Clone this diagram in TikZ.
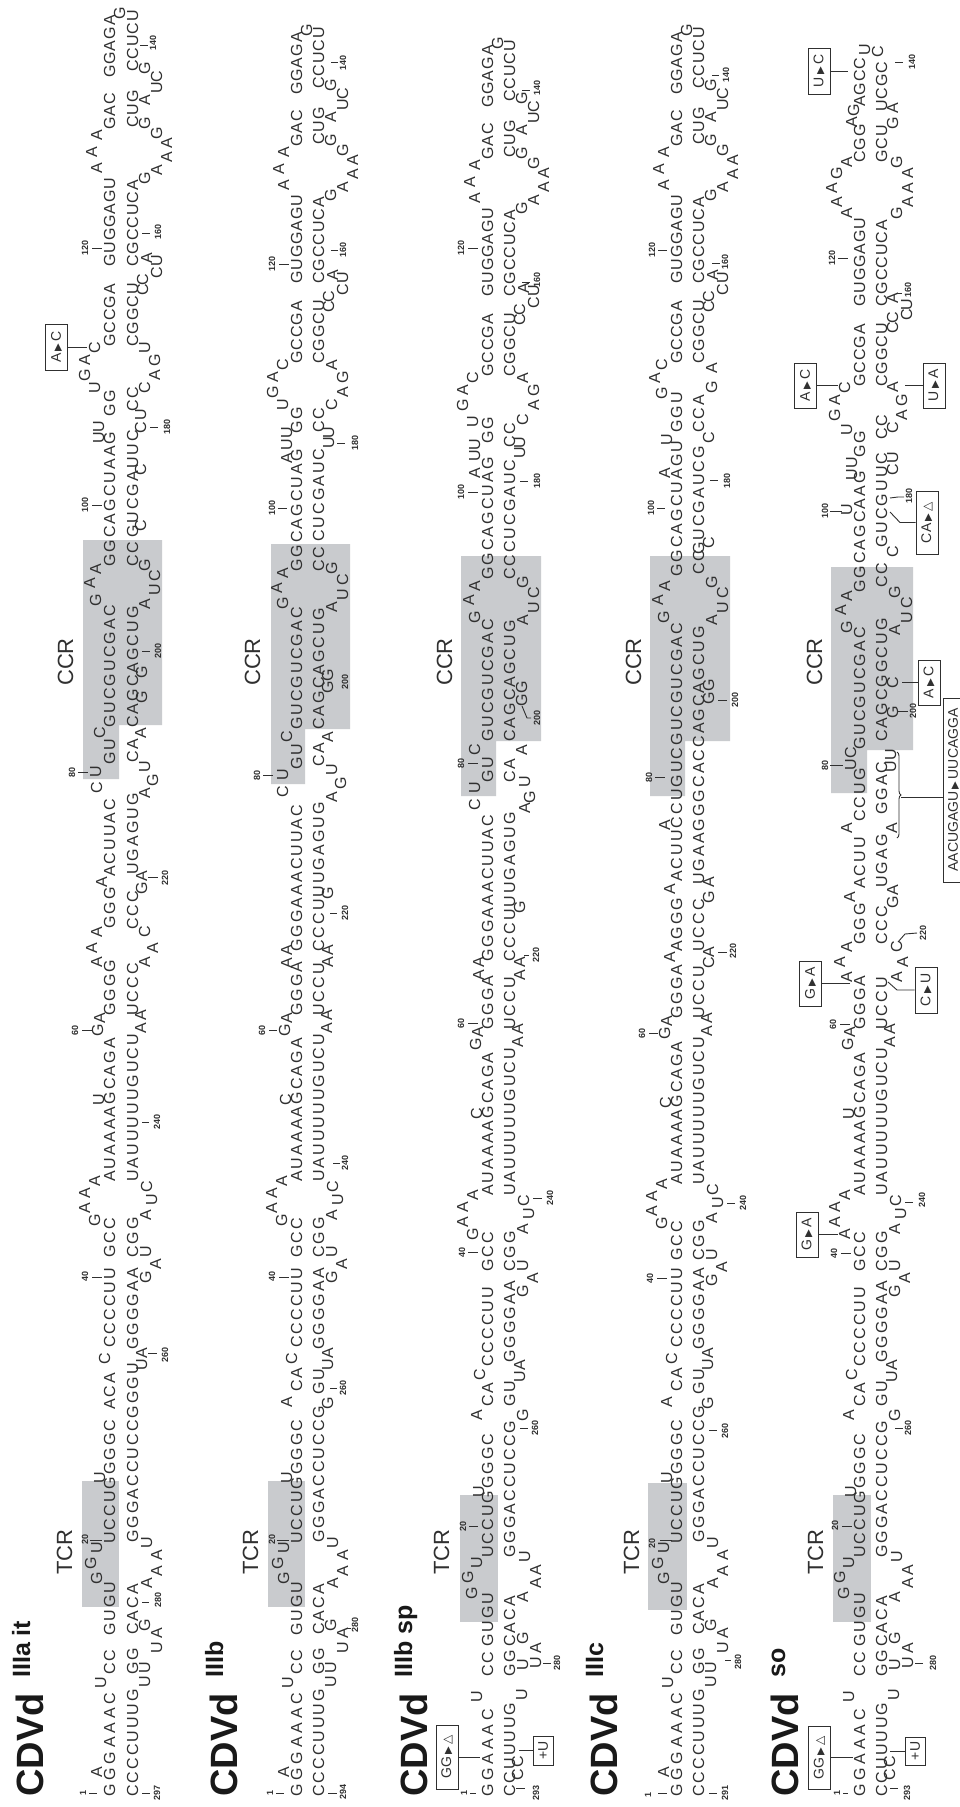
\documentclass[tikz,border=0pt]{standalone}
\usepackage{fontspec}
\usetikzlibrary{decorations.pathreplacing}
\setmainfont{Liberation Sans}
\newfontfamily\rnaspaced[LetterSpace=13]{Liberation Sans}
\newfontfamily\rnatight[LetterSpace=6]{Liberation Sans}
\newfontfamily\rnawide[LetterSpace=24]{Liberation Sans}
\newfontfamily\symfont{DejaVu Sans}
\definecolor{ink}{HTML}{303030}
\definecolor{regionfill}{HTML}{C9CBCE}
\tikzset{
 rowst/.style={inner sep=0pt,rotate=90,text=ink,font=\rnaspaced\fontsize{16}{16}\selectfont,anchor=base west},
 rowtight/.style={rowst,font=\rnatight\fontsize{16}{16}\selectfont},
 rowwide/.style={rowst,font=\rnawide\fontsize{16}{16}\selectfont},
 letst/.style={inner sep=0pt,rotate=90,text=ink,font=\fontsize{16}{16}\selectfont,anchor=base},
 numst/.style={inner sep=0pt,rotate=90,text=ink,font=\bfseries\fontsize{9}{9}\selectfont},
 tickst/.style={draw=ink,line width=0.9pt},
 titlest/.style={inner sep=0pt,rotate=90,text=black!90,font=\bfseries\fontsize{38}{38}\selectfont,anchor=base west},
 supst/.style={inner sep=0pt,rotate=90,text=black!90,font=\bfseries\fontsize{25}{25}\selectfont,anchor=base west},
 regionst/.style={inner sep=0pt,rotate=90,text=ink,font=\fontsize{22}{22}\selectfont,anchor=base west},
 boxst/.style={draw=ink,line width=0.9pt,inner sep=0pt,rotate=90,text=ink,font=\fontsize{14}{14}\selectfont,minimum height=22pt},
}
\def\yo{0}\def\bx{0}\def\bb{0}
\newcommand\Tr[2]{\node[rowst] at (\bx,{#1+\yo}) {#2};}
\newcommand\Br[2]{\node[rowst] at (\bb,{#1+\yo}) {#2};}
\newcommand\Tn[2]{\node[rowtight] at (\bx,{#1+\yo}) {#2};}
\newcommand\Bn[2]{\node[rowtight] at (\bb,{#1+\yo}) {#2};}
\newcommand\Tw[2]{\node[rowwide] at (\bx,{#1+\yo}) {#2};}
\newcommand\Ua[3]{\node[letst] at ({\bx+#1},{#2+\yo}) {#3};}
\newcommand\Da[3]{\node[letst] at ({\bb+#1},{#2+\yo}) {#3};}
\newcommand\Tk[3]{\draw[tickst] (#1,#3) -- (#2,#3);}
\newcommand\Lb[3]{\node[numst] at (#1,#2) {#3};}
\newcommand\Tri{{\symfont\fontsize{10}{10}\selectfont ▶}}
\newcommand\Del{{\symfont\fontsize{12}{12}\selectfont △}}
\newcommand\FiveA{%
 \Ua{-13}{1772}{A}\Tw{1797}{GGGAAAC}\Ua{-9}{1683}{U}\Tr{1675}{CC}\Tr{1636}{GUGU}%
 \Ua{-13}{1578}{G}\Ua{-19}{1563}{G}\Ua{-13}{1548}{U}\Tr{1544}{UCCUGGGGC}\Ua{-10}{1478}{U}%
 \Br{1797}{CCCCUUUG}\Da{12}{1682}{U}\Br{1675}{GG}\Da{12}{1668}{U}\Da{24}{1648}{U}\Da{24}{1633}{A}\Da{12}{1625}{G}%
 \Br{1635}{CACA}\Da{14}{1583}{A}\Da{24}{1571}{A}\Da{24}{1555}{A}\Da{14}{1543}{U}\Br{1543}{GGGACCUCCG}}
\newcommand\TailB{%
 \Ua{-10}{1402}{A}\Tr{1392}{CA}\Ua{-5}{1359}{C}\Tr{1348}{CCCCUU}%
 \Da{9}{1403}{G}\Br{1395}{GU}\Da{9}{1365}{U}\Da{9}{1353}{A}\Br{1350}{GGGGAA}}
\newcommand\FiveB{%
 \Tw{1797}{GGAAAC}\Ua{-11}{1697}{U}\Tr{1677}{CC}\Tr{1647}{GUGU}%
 \Ua{-16}{1593}{G}\Ua{-20}{1577}{G}\Ua{-11}{1563}{U}\Tr{1558}{UCCUGGGGC}\Ua{-9}{1492}{U}%
 \Ua{-11}{1415}{A}\Tr{1407}{CA}\Ua{-8}{1375}{C}\Tr{1367}{CCCCUU}%
 \Br{1797}{CCUUUUG}\Da{8}{1775}{C}\Da{8}{1762}{C}\Da{12}{1695}{U}\Br{1677}{GG}\Da{13}{1665}{U}\Da{26}{1663}{U}\Da{26}{1648}{A}\Da{13}{1638}{G}%
 \Br{1647}{CACA}\Da{13}{1597}{A}\Da{26}{1583}{A}\Da{26}{1570}{A}\Da{15}{1557}{U}\Br{1558}{GGGACCUCCG}%
 \Da{13}{1415}{G}\Br{1407}{GU}\Da{10}{1377}{U}\Da{10}{1365}{A}\Br{1363}{GGGGAA}}
\newcommand\LoopM[4]{%
 \Tr{1258}{GCC}\Ua{-15}{1220}{#4}\Ua{-25}{1208}{A}\Ua{-25}{1193}{A}\Ua{-15}{1181}{A}%
 \Tr{1182}{AUAAAAGCAGA}\Ua{-11}{1100}{#1}\Ua{-12}{1030}{G}\Ua{-10}{1018}{A}\Tr{1016}{#2}%
 \Br{1258}{CGG}\Da{13}{1277}{G}\Da{23}{1264}{A}\Da{13}{1252}{U}\Da{13}{1215}{A}\Da{19}{1200}{U}\Da{14}{1187}{C}%
 \Br{1182}{UAUUUUUGUCU}\Da{8}{1028}{A}\Da{8}{1015}{A}\Br{1016}{#3}}
\newcommand\SecTop{%
 \Tn{347}{GCCGA}\Tn{267}{GUGGAGU}\Ua{-13}{168}{A}\Ua{-18}{152}{A}\Ua{-13}{135}{A}\Tn{130}{GAC}\Tn{78}{GGAGA}\Ua{10}{13}{G}%
 \Bn{347}{CGGCU}\Da{10}{290}{C}\Da{10}{280}{C}\Da{24}{273}{C}\Da{24}{261}{U}\Da{14}{258}{A}\Bn{267}{CGCCUCA}%
 \Da{12}{178}{G}\Da{24}{170}{A}\Da{34}{157}{A}\Da{34}{143}{A}\Da{24}{133}{G}\Da{12}{123}{G}\Bn{128}{CUG}%
 \Da{12}{100}{A}\Da{24}{88}{U}\Da{24}{77}{C}\Da{12}{68}{G}\Bn{72}{CCUCU}}
\newcommand\ShTCR[4]{\fill[regionfill] (#1,#3) rectangle (#2,#4);}
\newcommand\ShCCR[6]{\fill[regionfill] (#1,#4)--(#2,#4)--(#2,#5)--(#3,#5)--(#3,#6)--(#1,#6)--cycle;}
\newcommand\Head[4]{\node[titlest] at (#1,1797) {CDVd};\node[supst] at (#2,1678) {#3};\node[regionst] at (#4,1575) {TCR};}
\begin{document}
\begin{tikzpicture}[x=1pt,y=-1pt]
\useasboundingbox (0,0) rectangle (960,1807);
\fill[white] (0,0) rectangle (960,1807);
% ---------- panel 1
\ShTCR{82}{119}{1481}{1607}
\ShCCR{83}{162}{119}{540}{725}{779}
\Head{43}{30}{IIIa it}{72}
\node[regionst] at (73,686) {CCR};
\def\bx{115}\def\bb{138}\def\yo{0}
\FiveA
\Tr{1410}{ACA}\Ua{-5}{1359}{C}\Tr{1348}{CCCCUU}\Br{1404}{GGU}\Da{9}{1365}{U}\Da{9}{1353}{A}\Br{1350}{GGGGAA}
\LoopM{U}{GGGG}{UCCC}{G}
\Ua{-13}{962}{A}\Ua{-18}{948}{A}\Ua{-13}{932}{A}\Tr{929}{GGG}\Ua{-8}{882}{A}\Tr{877}{ACUUAC}\Ua{-13}{788}{C}\Ua{-14}{772}{U}\Tr{765}{GU}\Ua{-10}{733}{C}\Tr{728}{GUCGUCGAC}
\Ua{-14}{600}{G}\Ua{-20}{583}{A}\Ua{-14}{569}{A}\Tr{567}{GGCAGCUAAG}\Ua{-11}{432}{UU}\Tr{417}{GG}\Ua{-15}{388}{U}\Ua{-25}{375}{G}\Ua{-25}{360}{A}\Ua{-15}{348}{C}
\Da{12}{962}{A}\Da{20}{948}{A}\Da{12}{932}{C}\Br{930}{CCC}\Da{9}{888}{G}\Da{9}{876}{A}\Br{875}{UGAGUG}\Da{12}{793}{A}\Da{20}{780}{G}\Da{12}{767}{U}\Br{763}{CA}\Da{8}{733}{A}\Br{728}{CAGCAGCUG}
\Da{9}{697}{G}\Da{9}{672}{G}\Da{12}{604}{A}\Da{22}{590}{U}\Da{22}{576}{C}\Da{12}{565}{G}\Br{567}{CC}\Br{538}{GUCGAUUC}\Da{8}{526}{C}\Da{8}{470}{C}\Da{8}{428}{C}\Da{8}{415}{U}\Br{412}{CC}\Da{12}{388}{C}\Da{22}{375}{A}\Da{22}{360}{G}\Da{12}{348}{U}
\SecTop
\Lb{83}{1793}{1}\Tk{89}{97}{1793}\Tk{142}{150}{1793}\Lb{157}{1793}{297}
\Lb{85}{1539}{20}\Tk{90}{102}{1540}\Tk{142}{149}{1602}\Lb{158}{1600}{280}\Tk{148}{157}{1353}\Lb{165}{1355}{260}
\Lb{85}{1276}{40}\Tk{92}{102}{1277}\Tk{142}{149}{1122}\Lb{157}{1122}{240}\Lb{75}{1030}{60}\Tk{82}{92}{1030}\Tk{148}{158}{877}\Lb{165}{878}{220}
\Lb{72}{772}{80}\Tk{78}{88}{772}\Tk{142}{150}{651}\Lb{158}{651}{200}\Lb{85}{505}{100}\Tk{92}{102}{505}\Tk{150}{158}{427}\Lb{167}{427}{180}
\Lb{85}{248}{120}\Tk{92}{102}{248}\Tk{142}{150}{233}\Lb{158}{232}{160}\Tk{140}{148}{45}\Lb{153}{43}{140}
\node[boxst,minimum width=46pt] (bA) at (56.5,347) {A\,\Tri\,C};
\coordinate (cA) at (87,347); \draw[tickst] (bA.south) -- (cA);
% ---------- panel 2
\ShTCR{268}{305}{1481}{1607}
\ShCCR{271}{350}{305}{544}{729}{784}
\Head{237}{223}{IIIb}{258}
\node[regionst] at (260,686) {CCR};
\def\bx{302}\def\bb{324}\def\yo{0}
\FiveA\TailB
\LoopM{C}{GGGA}{UCCU}{G}
\Ua{-10}{963}{A}\Ua{-10}{950}{A}\Tr{952}{GGGAAACUUAC}\Ua{-14}{792}{C}\Ua{-14}{775}{U}\Tr{770}{GU}\Ua{-10}{737}{C}\Tr{730}{GUCGUCGAC}\Ua{-14}{603}{G}\Ua{-20}{588}{A}\Ua{-14}{573}{A}\Tr{572}{GGCAGCUAG}
\Ua{-10}{458}{A}\Ua{-10}{445}{U}\Ua{-10}{433}{U}\Tr{434}{GG}\Ua{-14}{405}{U}\Ua{-24}{392}{G}\Ua{-24}{377}{A}\Ua{-14}{365}{C}
\Da{9}{962}{A}\Da{9}{950}{A}\Br{952}{CCCUUUGAGUG}\Da{9}{893}{G}\Da{13}{797}{A}\Da{22}{783}{G}\Da{13}{770}{U}\Br{767}{CA}\Da{9}{737}{A}\Br{730}{CAGCAGCUG}\Da{9}{687}{G}\Da{9}{675}{G}
\Da{13}{607}{A}\Da{24}{595}{U}\Da{24}{580}{C}\Da{13}{568}{G}\Br{572}{CC}\Br{542}{CUCGAUC}\Da{10}{443}{U}\Da{10}{433}{U}\Br{433}{CC}\Da{13}{405}{C}\Da{24}{392}{A}\Da{24}{377}{G}\Da{13}{365}{A}
\def\yo{17}\SecTop\def\yo{0}
\Lb{270}{1793}{1}\Tk{276}{284}{1793}\Tk{328}{337}{1793}\Lb{343}{1792}{294}\Lb{272}{1539}{20}\Tk{277}{289}{1540}\Tk{346}{351}{1628}\Lb{355}{1625}{280}\Tk{330}{337}{1388}\Lb{343}{1388}{260}
\Lb{272}{1276}{40}\Tk{279}{289}{1277}\Tk{333}{340}{1163}\Lb{345}{1163}{240}\Lb{262}{1030}{60}\Tk{269}{277}{1030}\Tk{330}{337}{913}\Lb{345}{913}{220}
\Lb{257}{775}{80}\Tk{263}{273}{775}\Lb{345}{682}{200}\Lb{272}{508}{100}\Tk{278}{287}{508}\Tk{337}{345}{443}\Lb{355}{443}{180}
\Lb{272}{264}{120}\Tk{279}{289}{264}\Tk{331}{338}{250}\Lb{343}{250}{160}\Tk{331}{338}{62}\Lb{343}{63}{140}
% ---------- panel 3
\ShTCR{460}{498}{1495}{1622}
\ShCCR{461}{541}{496}{556}{741}{796}
\Head{427}{412}{IIIb sp}{449}
\node[regionst] at (452,686) {CCR};
\def\bx{493}\def\bb{515}\def\yo{0}
\FiveB
\def\yo{14}\LoopM{C}{GGGA}{UCCU}{G}\def\yo{0}
\Ua{-9}{975}{A}\Ua{-9}{962}{A}\Tr{962}{GGGAAACUUAC}\Ua{-13}{805}{C}\Ua{-13}{788}{U}\Tr{783}{GU}\Ua{-13}{750}{C}\Tr{742}{GUCGUCGAC}\Ua{-13}{617}{G}\Ua{-19}{600}{A}\Ua{-13}{586}{A}\Tr{580}{GGCAGCUAG}
\Ua{-13}{473}{A}\Ua{-13}{456}{U}\Ua{-13}{445}{U}\Tr{444}{GG}\Ua{-15}{422}{U}\Ua{-25}{405}{G}\Ua{-25}{390}{A}\Ua{-15}{378}{C}
\Da{10}{975}{A}\Da{10}{962}{A}\Br{962}{CCCUUUGAGUG}\Da{10}{907}{G}\Da{15}{808}{A}\Da{20}{797}{G}\Da{15}{782}{U}\Br{783}{CA}\Da{12}{750}{A}\Br{742}{CAGCAGCUG}\Da{12}{700}{G}\Da{12}{687}{G}
\Da{13}{620}{A}\Da{24}{608}{U}\Da{24}{593}{C}\Da{13}{582}{G}\Br{580}{CC}\Br{553}{CUCGAUC}\Da{10}{453}{U}\Da{10}{443}{U}\Br{448}{CC}\Da{13}{420}{C}\Da{24}{405}{A}\Da{24}{390}{G}\Da{13}{378}{A}
\def\yo{30}\SecTop\def\yo{0}
\Lb{464}{1793}{1}\Tk{470}{476}{1793}\Tk{516}{525}{1788}\Lb{536}{1793}{293}\Tk{543}{551}{1663}\Lb{557}{1663}{280}\Lb{463}{1526}{20}\Tk{469}{478}{1526}\Tk{520}{528}{1428}\Lb{535}{1428}{260}
\Lb{462}{1252}{40}\Tk{468}{478}{1252}\Tk{533}{542}{1198}\Lb{550}{1198}{240}\Lb{461}{1023}{60}\Tk{468}{478}{1023}\Tk{524}{529}{955}\Lb{536}{955}{220}
\Lb{461}{763}{80}\Tk{468}{478}{763}\Lb{461}{492}{100}\Tk{468}{478}{492}\draw[tickst] (522,706)--(527,718)--(531,718);\Lb{537}{718}{200}\Tk{520}{528}{481}\Lb{537}{481}{180}
\Lb{461}{248}{120}\Tk{468}{478}{248}\Tk{522}{530}{282}\Lb{537}{280}{160}\Tk{522}{530}{90}\Lb{537}{88}{140}
\node[boxst,minimum width=64pt] (bGG) at (447,1757) {GG\,\Tri\,\Del};
\coordinate (cGG) at (480,1757); \draw[tickst] (bGG.south) -- (cGG);
\node[boxst,minimum width=29pt,minimum height=20pt] (bU) at (543,1750.5) {+U};
\coordinate (cU) at (519,1750.5); \draw[tickst] (bU.north) -- (cU);
% ---------- panel 4
\ShTCR{648}{687}{1483}{1610}
\ShCCR{650}{730}{685}{556}{741}{796}
\Head{617}{603}{IIIc}{639}
\node[regionst] at (641,686) {CCR};
\def\bx{682}\def\bb{704}\def\yo{0}
\FiveA\TailB
\def\yo{3}\LoopM{C}{GGGA}{UCCU}{G}\def\yo{0}
\Ua{-7}{957}{A}\Tr{952}{AGGG}\Ua{-7}{889}{A}\Tr{882}{ACUUCCUGUCGUCGUCGAC}\Ua{-12}{825}{A}\Ua{-13}{617}{G}\Ua{-19}{600}{A}\Ua{-12}{586}{A}\Tr{577}{GGCAGCUAGU}\Ua{-12}{473}{A}\Ua{-10}{440}{U}\Tr{433}{GGU}\Ua{-15}{393}{G}\Ua{-22}{378}{A}\Ua{-15}{365}{C}
\Da{10}{963}{C}\Da{10}{952}{A}\Br{952}{UCCC}\Da{10}{897}{G}\Da{10}{882}{A}\Br{885}{UGAAGGGCACCAGCAGCUG}\Da{10}{698}{G}\Da{10}{685}{G}\Da{13}{620}{A}\Da{24}{608}{U}\Da{24}{593}{C}\Da{13}{582}{G}\Br{575}{CC}\Da{10}{543}{C}\Br{555}{GUCGAUCG}\Da{10}{438}{C}\Br{433}{CCA}\Da{13}{387}{G}\Da{13}{368}{A}
\def\yo{17}\SecTop\def\yo{0}
\Lb{648}{1795}{1}\Tk{658}{667}{1793}\Tk{709}{717}{1793}\Lb{725}{1793}{291}\Tk{725}{731}{1660}\Lb{738}{1662}{280}\Lb{652}{1543}{20}\Tk{660}{672}{1540}\Tk{709}{717}{1430}\Lb{725}{1431}{260}
\Lb{650}{1278}{40}\Tk{657}{667}{1278}\Tk{727}{735}{1203}\Lb{743}{1203}{240}\Lb{642}{1033}{60}\Tk{649}{658}{1033}\Tk{718}{727}{952}\Lb{733}{951}{220}
\Lb{649}{777}{80}\Tk{655}{665}{777}\Tk{718}{727}{700}\Lb{735}{700}{200}\Lb{651}{508}{100}\Tk{657}{665}{508}\Tk{710}{718}{480}\Lb{727}{481}{180}
\Lb{652}{250}{120}\Tk{658}{667}{250}\Tk{712}{720}{263}\Lb{725}{262}{160}\Tk{712}{719}{75}\Lb{726}{75}{140}
% ---------- panel 5
\ShTCR{833}{871}{1495}{1622}
\ShCCR{831}{913}{867}{567}{750}{793}
\Head{798}{785}{so}{823}
\node[regionst] at (822,686) {CCR};
\def\bx{865}\def\bb{887}\def\yo{0}
\FiveB
\def\yo{14}\LoopM{U}{GGGA}{UCCU}{A}\def\yo{0}
\Ua{-13}{977}{A}\Ua{-20}{962}{A}\Ua{-13}{947}{A}\Tr{945}{GGG}\Ua{-10}{897}{A}\Tr{889}{ACUU}\Ua{-13}{828}{A}\Tr{822}{CCUG}\Ua{-9}{765}{U}\Ua{-9}{753}{C}\Tr{750}{GUCGUCGAC}\Ua{-13}{627}{G}\Ua{-19}{610}{A}\Ua{-13}{596}{A}\Tr{593}{GGCAGCAAG}\Ua{-13}{510}{U}\Ua{-8}{475}{U}\Ua{-8}{463}{U}\Tr{458}{GG}\Ua{-13}{430}{U}\Ua{-25}{415}{G}\Ua{-25}{400}{A}\Ua{-15}{388}{C}
\Tn{387}{GCCGA}\Tn{307}{GUGGAGU}\Ua{-13}{213}{A}\Ua{-23}{202}{A}\Ua{-28}{188}{A}\Ua{-23}{173}{G}\Ua{-13}{162}{A}\Tn{163}{CGG}\Ua{-8}{122}{A}\Ua{-6}{110}{G}\Tn{107}{AGCC}\Ua{5}{50}{U}\Da{-4}{52}{C}
\Da{15}{977}{A}\Da{21}{962}{A}\Da{15}{947}{C}\Br{945}{CCC}\Da{11}{902}{G}\Da{11}{890}{A}\Br{888}{UGAG}\Da{10}{828}{A}\Br{815}{GGAC}\Da{9}{767}{U}\Da{9}{755}{U}\Br{742}{CAGCGGCUG}\Da{11}{712}{G}\Da{11}{683}{C}\Da{13}{630}{A}\Da{25}{618}{U}\Da{25}{603}{C}\Da{13}{592}{G}\Br{588}{CC}\Da{11}{552}{C}\Br{548}{GUCGUUC}\Da{11}{470}{C}\Da{11}{458}{U}\Br{440}{CC}\Da{11}{428}{C}\Da{20}{415}{A}\Da{20}{400}{G}\Da{11}{387}{A}
\Bn{387}{CGGCU}\Da{11}{328}{C}\Da{11}{318}{C}\Da{25}{315}{C}\Da{25}{305}{U}\Da{11}{298}{A}\Bn{307}{CGCCUCA}\Da{15}{213}{G}\Da{26}{202}{A}\Da{26}{188}{A}\Da{26}{173}{A}\Da{15}{162}{G}\Bn{163}{GCU}\Da{11}{123}{G}\Da{11}{108}{A}\Bn{112}{UCGC}
\Lb{837}{1793}{1}\Tk{843}{848}{1793}\Tk{890}{898}{1788}\Lb{907}{1793}{293}\Tk{915}{923}{1663}\Lb{933}{1663}{280}\Lb{835}{1525}{20}\Tk{842}{852}{1526}\Tk{895}{903}{1428}\Lb{908}{1428}{260}
\Lb{834}{1253}{40}\Tk{841}{851}{1253}\Tk{905}{913}{1202}\Lb{922}{1200}{240}\Lb{833}{1024}{60}\Tk{840}{850}{1024}
\Lb{825}{765}{80}\Tk{830}{843}{765}\Lb{825}{511}{100}\Tk{830}{842}{511}\Tk{898}{908}{711}\Lb{913}{711}{200}
\Lb{832}{258}{120}\Tk{838}{848}{258}\Tk{896}{902}{293}\Lb{908}{290}{160}\Tk{895}{903}{62}\Lb{912}{62}{140}
\draw[tickst] (890,498)--(898,497)--(904,497);\Lb{909}{496}{180}
\draw[tickst] (898,942)--(905,934)--(917,933);\Lb{923}{933}{220}
\node[boxst,minimum width=63pt] (bGGb) at (819.5,1757.5) {GG\,\Tri\,\Del};
\coordinate (cGGb) at (853,1757.5); \draw[tickst] (bGGb.south) -- (cGGb);
\node[boxst,minimum width=28pt,minimum height=20pt] (bUb) at (915,1751) {+U};
\coordinate (cUb) at (890,1751); \draw[tickst] (bUb.north) -- (cUb);
\node[boxst,minimum width=45pt] (bGA) at (807,1234.5) {G\,\Tri\,A};
\coordinate (cGA) at (838,1234.5); \draw[tickst] (bGA.south) -- (cGA);
\node[boxst,minimum width=45pt] (bGAb) at (810.5,983.5) {G\,\Tri\,A};
\coordinate (cGAb) at (850,983.5); \draw[tickst] (bGAb.south) -- (cGAb);
\node[boxst,minimum width=46pt] (bCU) at (926,990) {C\,\Tri\,U};
\coordinate (cCU1) at (897,990); \coordinate (cCU2) at (888,982); \draw[tickst] (bCU.north) -- (cCU1) -- (cCU2);
\node[boxst,minimum width=63pt] (bCA) at (927,522.5) {CA\,\Tri\,\Del};
\coordinate (cCA1) at (900,522.5); \coordinate (cCA2) at (890,512); \draw[tickst] (bCA.north) -- (cCA1) -- (cCA2);
\node[boxst,minimum width=45pt] (bAC) at (929,682.5) {A\,\Tri\,C};
\coordinate (cAC) at (902,682.5); \draw[tickst] (bAC.north) -- (cAC);
\node[boxst,minimum width=45pt] (bACb) at (805.5,385.5) {A\,\Tri\,C};
\coordinate (cACb) at (838,385.5); \draw[tickst] (bACb.south) -- (cACb);
\node[boxst,minimum width=45pt] (bUA) at (934,385.5) {U\,\Tri\,A};
\coordinate (cUA) at (905,385.5); \draw[tickst] (bUA.north) -- (cUA);
\node[boxst,minimum width=46pt] (bUC) at (819,71) {U\,\Tri\,C};
\coordinate (cUC) at (848,71); \draw[tickst] (bUC.south) -- (cUC);
\node[boxst,minimum width=184pt,minimum height=21pt] (bLong) at (953.5,790) {AACUGAGU\,\Tri\,UUCAGGA};
\coordinate (bra) at (897,752); \coordinate (brb) at (897,838); \coordinate (brm) at (901,797);
\draw[tickst,decorate,decoration={brace,amplitude=4pt}] (bra) -- (brb);
\draw[tickst] (brm) -- (brm -| bLong.north);
\end{tikzpicture}
\end{document}
